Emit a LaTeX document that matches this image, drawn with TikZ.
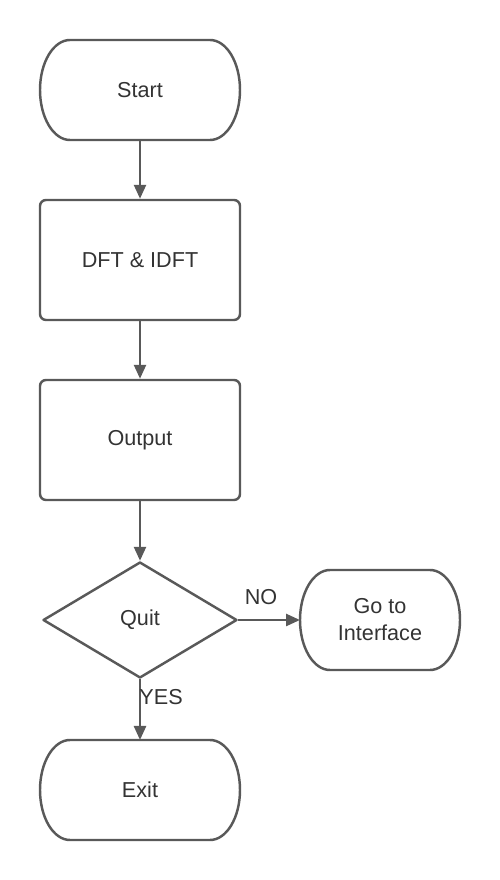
\documentclass[tikz,border=0pt]{standalone}
\usepackage{fontspec}
\setmainfont{Liberation Sans}
\usetikzlibrary{shapes.geometric,arrows.meta}
\definecolor{linegray}{HTML}{595959}
\definecolor{textgray}{HTML}{333333}
% outline of a start/stop node: elliptic ends (a=0.6cm, b=1cm)
\newcommand{\termoutline}[1]{%
   \draw[outline] ([xshift=0.6cm]#1.north west) -- ([xshift=-0.6cm]#1.north east)
      .. controls ([xshift=-0.269cm]#1.north east) and ([yshift=0.552cm]#1.east) .. (#1.east)
      .. controls ([yshift=-0.552cm]#1.east) and ([xshift=-0.269cm]#1.south east) .. ([xshift=-0.6cm]#1.south east)
      -- ([xshift=0.6cm]#1.south west)
      .. controls ([xshift=0.269cm]#1.south west) and ([yshift=-0.552cm]#1.west) .. (#1.west)
      .. controls ([yshift=0.552cm]#1.west) and ([xshift=0.269cm]#1.north west) .. ([xshift=0.6cm]#1.north west)
      -- cycle;}
\begin{document}
\begin{tikzpicture}[
   outline/.style={draw=linegray, line width=1.4pt, line join=round},
   box/.style={outline, text=textgray, align=center,
      font=\fontsize{12.3}{15.3}\selectfont, inner sep=0pt},
   terminal/.style={box, draw=none, outer sep=0pt, minimum width=4cm, minimum height=2cm},
   process/.style={box, rounded corners=0.12cm, minimum width=4cm, minimum height=2.4cm},
   decision/.style={box, diamond, aspect=1.67, minimum width=3.88cm, minimum height=2.32cm},
   flow/.style={draw=linegray, line width=1.4pt, -{Triangle[length=0.28cm,width=0.24cm]}},
   lbl/.style={text=textgray, font=\fontsize{12.3}{15.3}\selectfont, inner sep=0pt}
]
   \useasboundingbox (0,0) rectangle (10,17.6);

   \node[terminal] (start) at (2.8,15.8) {Start};
   \node[process] (dft) at (2.8,12.4) {DFT \& IDFT};
   \node[process] (out) at (2.8,8.8) {Output};
   \node[decision] (quit) at (2.8,5.2) {Quit};
   \node[terminal, minimum width=3.2cm] (iface) at (7.6,5.2) {Go to\\Interface};
   \node[terminal] (exit) at (2.8,1.8) {Exit};

   \termoutline{start}
   \termoutline{iface}
   \termoutline{exit}

   \draw[flow] (start) -- (dft);
   \draw[flow] (dft) -- (out);
   \draw[flow] (out) -- (quit);
   \draw[flow] (quit) -- node[lbl, pos=0.37, above=0.28cm] {NO} (iface);
   \draw[flow] (quit) -- node[lbl, pos=0.3, anchor=west, xshift=-1pt] {YES} (exit);

\end{tikzpicture}
\end{document}
